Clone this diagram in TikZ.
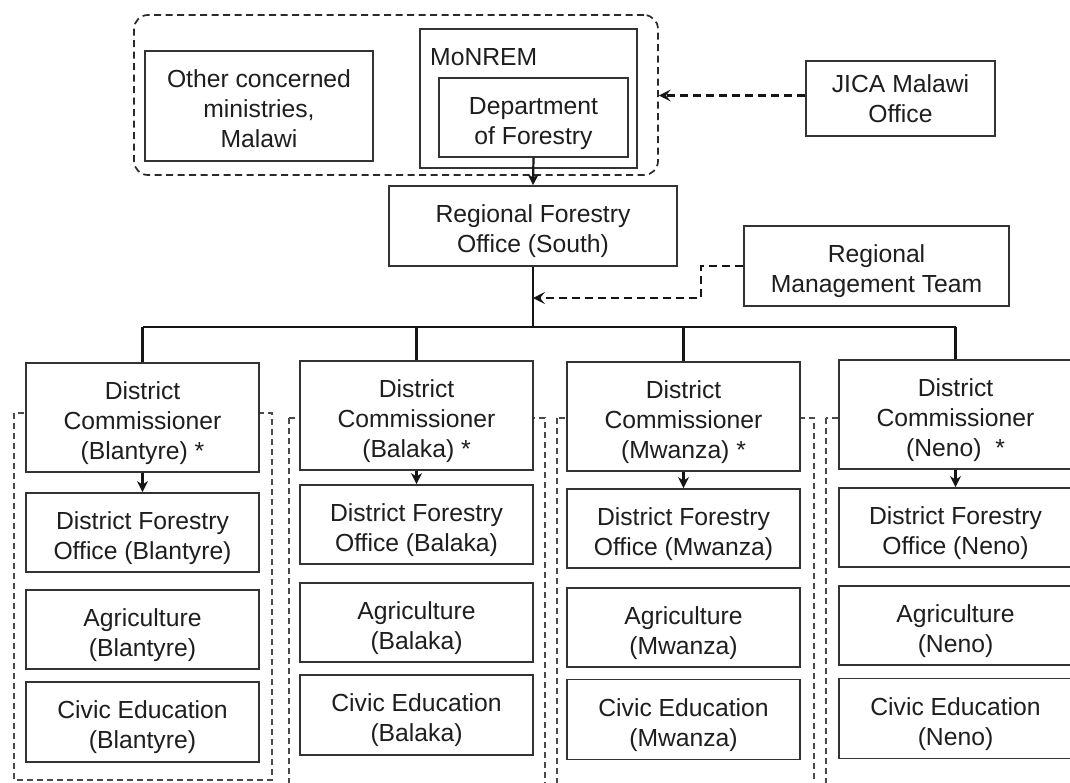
\documentclass[tikz,border=0pt]{standalone}
\usepackage{fontspec}
\setmainfont{Liberation Sans}
\usetikzlibrary{arrows.meta,calc}

\definecolor{boxline}{HTML}{333333}
\definecolor{conn}{HTML}{151515}
\definecolor{grpline}{HTML}{2A2A2A}
\definecolor{colline}{HTML}{4A4A4A}
\definecolor{txt}{HTML}{1E1E1E}

% strut that fixes the height of a box's first text line
\newcommand{\topstrut}{\rule{0pt}{23pt}}

\tikzset{
  box/.style={draw=boxline, line width=1.8pt, fill=white, align=center,
    inner sep=0pt, text=txt, text depth=0pt, font=\fontsize{24.7}{30}\selectfont},
  label text/.style={inner sep=0pt, text=txt, font=\fontsize{24.7}{30}\selectfont},
  group/.style={draw=grpline, line width=1.7pt, dash pattern=on 7pt off 4.5pt,
    rounded corners=14pt, inner sep=0pt},
  colgroup/.style={draw=colline, line width=1.4pt, dash pattern=on 6pt off 4pt},
  link/.style={draw=conn, line width=2.2pt},
  arrowlink/.style={link, -{Stealth[length=11pt,width=11pt,inset=3.5pt]}},
  dashlink/.style={draw=conn, line width=2.2pt, dash pattern=on 8pt off 5pt,
    -{Stealth[length=12pt,width=12pt,inset=5pt]}},
}

\begin{document}
\begin{tikzpicture}[x=1pt,y=-1pt]
\useasboundingbox (0,0) rectangle (1070,782);
\clip (0,0) rectangle (1070,782);
\fill[white] (0,0) rectangle (1070,782);

% dashed outlines grouping each district's offices
\draw[colgroup] (14,413) rectangle (272,780);
\draw[colgroup] (289,418) rectangle (545,800);
\draw[colgroup] (557,418) rectangle (814,800);
\draw[colgroup] (826,418) rectangle (1100,800);

% national level
\node[group, minimum width=524pt, minimum height=160pt] (grp) at (396,95) {};
\node[box, minimum width=228pt, minimum height=110pt] (other) at (259,106)
  {\topstrut Other concerned\\ministries,\\Malawi};
\node[box, minimum width=217pt, minimum height=139pt] (monrem) at (528.5,98.5) {};
\node[label text, anchor=base west] (monremlab) at (430,65) {MoNREM};
\node[box, minimum width=189pt, minimum height=79pt] (dof) at (533.5,117.5)
  {\topstrut Department\\of Forestry};
\node[box, minimum width=189pt, minimum height=75pt] (jica) at (900.5,98.5)
  {JICA Malawi\\Office};

% regional level
\node[box, minimum width=288pt, minimum height=80pt] (rfo) at (533,226)
  {\topstrut Regional Forestry\\Office (South)};
\node[box, minimum width=265pt, minimum height=80pt] (rmt) at (876.5,266)
  {\topstrut Regional\\Management Team};

\draw[dashlink] ([yshift=3pt]jica.west) -- ([yshift=3pt]jica.west -| grp.east);
\draw[arrowlink] (dof.south) -- (rfo.north);

\coordinate (tap) at (533,298);
\coordinate (bar) at (533,327);
\draw[dashlink] (rmt.west) -- ++(-42,0) |- (tap);

% district level
\foreach \i/\cx/\dcy/\dfy/\agy/\cvy/\place/\lab in {
  1/142.5/417.5/532.5/629.5/722/Blantyre/{(Blantyre) *},
  2/416.5/415.5/524.5/622.5/715/Balaka/{(Balaka) *},
  3/683.5/416.5/528.5/627.5/719.5/Mwanza/{(Mwanza) *},
  4/955.5/414.5/527.5/625.5/718.5/Neno/{(Neno) \ *}}{
  \node[box, minimum width=233pt, minimum height=109pt] (dc\i) at (\cx,\dcy)
    {\topstrut District\\Commissioner\\\lab};
  \node[box, minimum width=233pt, minimum height=79pt] (dfo\i) at (\cx,\dfy)
    {\topstrut District Forestry\\Office (\place)};
  \node[box, minimum width=233pt, minimum height=79pt] (agr\i) at (\cx,\agy)
    {\topstrut Agriculture\\(\place)};
  \node[box, minimum width=233pt, minimum height=80pt] (civ\i) at (\cx,\cvy)
    {\topstrut Civic Education\\(\place)};
  \draw[arrowlink] (dc\i.south) -- (dfo\i.north);
  \draw[link] (dc\i.north |- bar) -- (dc\i.north);
}

\draw[link] (rfo.south) -- (bar);
\draw[link] (dc1.north |- bar) -- (dc4.north |- bar);
\end{tikzpicture}
\end{document}
